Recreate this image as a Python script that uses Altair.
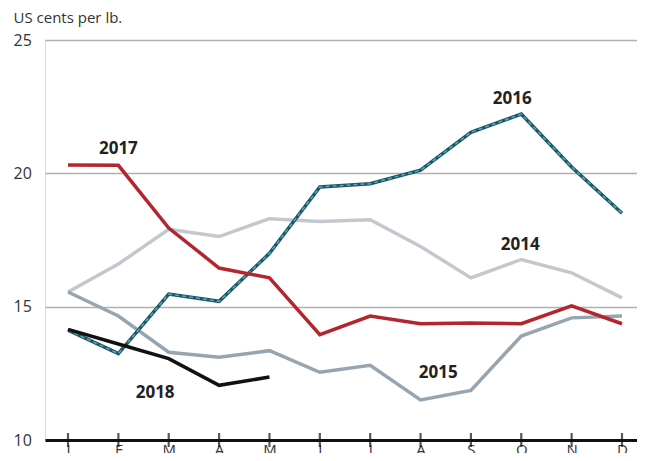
import altair as alt
import pandas as pd

months = ["J", "F", "M", "A", "M", "J", "J", "A", "S", "O", "N", "D"]
month_idx = list(range(1, 13))

v2014 = [15.55, 16.6, 17.9, 17.63, 18.3, 18.19, 18.26, 17.26, 16.08, 16.77, 16.27, 15.33]
v2015 = [15.55, 14.65, 13.29, 13.1, 13.35, 12.54, 12.8, 11.5, 11.86, 13.9, 14.58, 14.65]
v2016 = [14.12, 13.24, 15.47, 15.2, 17.0, 19.49, 19.61, 20.12, 21.54, 22.22, 20.24, 18.5]
v2017 = [20.31, 20.3, 17.95, 16.45, 16.08, 13.95, 14.65, 14.36, 14.39, 14.36, 15.03, 14.36]
v2018 = [14.15, 13.6, 13.05, 12.05, 12.36]

label_years = ["2017", "2016", "2014", "2015", "2018"]
label_month = [2.0, 9.82, 9.98, 8.35, 2.73]
label_value = [20.9, 22.77, 17.33, 12.5, 11.75]

rows = []
for yr, vals in [("2014", v2014), ("2015", v2015), ("2016", v2016), ("2017", v2017), ("2018", v2018)]:
    for m, v in zip(month_idx, vals):
        rows.append({"year": yr, "m": m, "value": v})
df = pd.DataFrame(rows)
ticks_df = pd.DataFrame({"m": month_idx, "label": months})
labels_df = pd.DataFrame({"year": label_years, "m": label_month, "value": label_value})

FONT = "Open Sans"
label_expr = "['','J','F','M','A','M','J','J','A','S','O','N','D'][datum.value]"

x_scale = alt.Scale(domain=[0.543, 12.298], nice=False, zero=False)
y_scale = alt.Scale(domain=[10, 25], nice=False, zero=False)

x_enc = alt.X("m:Q", scale=x_scale,
              axis=alt.Axis(values=month_idx, labelExpr=label_expr, title=None, grid=False,
                            domainColor="#111111", domainWidth=3, ticks=False,
                            labelFont=FONT, labelFontSize=15, labelColor="#333333",
                            labelPadding=2))
y_enc = alt.Y("value:Q", scale=y_scale,
              axis=alt.Axis(values=[10, 15, 20, 25], title="US cents per lb.", titleAngle=0,
                            titleAlign="left", titleX=-32, titleY=-15, titleBaseline="bottom",
                            titleFont=FONT, titleFontSize=15, titleFontWeight="normal",
                            titleColor="#333333",
                            grid=True, gridColor="#b0b0b0",
                            gridWidth=1.5, domain=False, ticks=False, labelAlign="left",
                            labelPadding=32, labelFont=FONT, labelFontSize=16,
                            labelColor="#333333", labelBaseline="middle"))

def line(year, color, width=3.5):
    return alt.Chart(df[df.year == year]).mark_line(color=color, strokeWidth=width).encode(
        x=x_enc, y=y_enc)

base_grid = alt.Chart(df).mark_line(opacity=0).encode(x=x_enc, y=y_enc)

l2014 = line("2014", "#c3c8ce")
l2015 = line("2015", "#97a5b1")
l2016a = line("2016", "#1b5566")
l2016b = alt.Chart(df[df.year == "2016"]).mark_line(color="#5aa7bd", strokeWidth=1.5,
                                                    strokeDash=[4, 3]).encode(x=x_enc, y=y_enc)
l2017 = line("2017", "#b3262e")
l2018 = line("2018", "#111111")

ticks = alt.Chart(ticks_df).mark_tick(orient="vertical", size=14, thickness=2.2,
                                      color="#111111").encode(
    x=alt.X("m:Q", scale=x_scale), y=alt.datum(10))

labels = alt.Chart(labels_df).mark_text(font=FONT, fontSize=17, fontWeight="bold",
                                        color="#222222").encode(
    x=alt.X("m:Q", scale=x_scale), y=alt.Y("value:Q", scale=y_scale), text="year:N")

chart = alt.layer(base_grid, l2014, l2015, l2016a, l2016b, l2017, l2018, ticks, labels).properties(
    width=592, height=400,
    autosize=alt.AutoSizeParams(type="none"),
    padding={"left": 37, "top": 32, "right": 0, "bottom": 13},
).configure_view(stroke=None).configure(background="white")

chart.save("out.html", embed_options={"renderer": "svg", "actions": False})
